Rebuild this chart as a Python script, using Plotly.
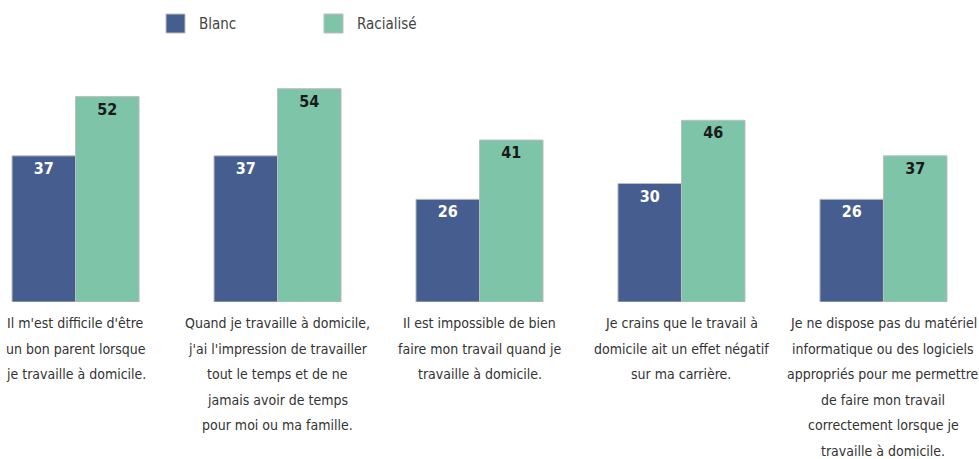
import plotly.graph_objects as go

categories = [
    ["Il m'est difficile d'être", "un bon parent lorsque", "je travaille à domicile."],
    ["Quand je travaille à domicile,", "j'ai l'impression de travailler", "tout le temps et de ne",
     "jamais avoir de temps", "pour moi ou ma famille."],
    ["Il est impossible de bien", "faire mon travail quand je", "travaille à domicile."],
    ["Je crains que le travail à", "domicile ait un effet négatif", "sur ma carrière."],
    ["Je ne dispose pas du matériel", "informatique ou des logiciels", "appropriés pour me permettre",
     "de faire mon travail", "correctement lorsque je", "travaille à domicile."],
]
blanc = [37, 37, 26, 30, 26]
racialise = [52, 54, 41, 46, 37]
series_names = ["Blanc", "Racialisé"]
colors = ["#465d8f", "#7dc4a9"]

FONT = "DejaVu Sans Condensed, Liberation Sans Narrow, sans-serif"
xpos = list(range(len(categories)))

fig = go.Figure()
fig.add_trace(go.Bar(
    x=xpos, y=blanc, name=series_names[0],
    marker=dict(color=colors[0], line=dict(color="#bdbdbd", width=1)),
    text=[str(v) for v in blanc], textposition="inside", insidetextanchor="end",
    textfont=dict(color="white", size=16, family=FONT, weight="bold"), textangle=0,
    showlegend=False,
))
fig.add_trace(go.Bar(
    x=xpos, y=racialise, name=series_names[1],
    marker=dict(color=colors[1], line=dict(color="#bdbdbd", width=1)),
    text=[str(v) for v in racialise], textposition="inside", insidetextanchor="end",
    textfont=dict(color="#1a1a1a", size=16, family=FONT, weight="bold"), textangle=0,
    showlegend=False,
))

for i, lines in enumerate(categories):
    for k, line in enumerate(lines):
        fig.add_annotation(x=i, y=0, xref="x", yref="paper", yanchor="middle", xanchor="center",
                           yshift=-(21 + 25.6 * k), text=line, showarrow=False, align="center",
                           font=dict(size=14, color="#333333", family=FONT))

# manual legend
H = 237.0
W = 979.0
def py(p):
    return (302 - p) / H
for (x0, name, col) in [(166, series_names[0], colors[0]), (324, series_names[1], colors[1])]:
    fig.add_shape(type="rect", xref="paper", yref="paper",
                  x0=x0 / W, x1=(x0 + 19) / W, y0=py(33), y1=py(14),
                  fillcolor=col, line=dict(color="#bdbdbd", width=1))
    fig.add_annotation(xref="paper", yref="paper", x=(x0 + 31) / W, y=py(23.5),
                       xanchor="left", yanchor="middle", text=name, showarrow=False,
                       font=dict(size=15, color="#444444", family=FONT))

fig.update_layout(
    width=979, height=459,
    margin=dict(l=0, r=0, t=65, b=157),
    plot_bgcolor="white", paper_bgcolor="white",
    barmode="group", bargap=0.371, bargroupgap=0,
    xaxis=dict(range=[-0.374, 4.473], showticklabels=False, showgrid=False, zeroline=False, showline=False),
    yaxis=dict(range=[0, 60], showticklabels=False, showgrid=False, zeroline=False, showline=False),
    font=dict(family=FONT),
    uniformtext=dict(mode="show", minsize=16),
)
fig.write_html("out.html", config={"displayModeBar": False},
               post_script="document.body.style.margin='0px';")
